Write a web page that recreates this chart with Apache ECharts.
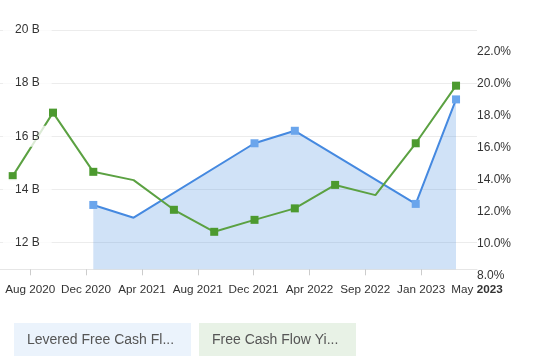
<!DOCTYPE html>
<html><head><meta charset="utf-8">
<script src="https://cdn.jsdelivr.net/npm/echarts@6/dist/echarts.min.js"></script>
<style>html,body{margin:0;padding:0;background:#fff}#c{width:538px;height:360px}</style>
</head><body><div id="c"></div>
<script>
// ---- data ----
const pointDates = ['Jun 2020','Sep 2020','Dec 2020','Mar 2021','Jun 2021','Sep 2021','Dec 2021','Mar 2022','Jun 2022','Sep 2022','Dec 2022','Mar 2023'];
const leveredFCF = [null, null, 13.42, 12.94, null, null, 15.74, 16.21, null, null, 13.46, 17.39]; // billions
const fcfYield   = [13.84, 17.82, 14.11, 13.59, 11.73, 10.35, 11.10, 11.82, 13.29, 12.65, 15.90, 19.51]; // %
const leveredMarker = [0,0,1,0,0,0,1,1,0,0,1,1];
const yieldMarker   = [1,1,1,0,1,1,1,1,1,0,1,1];
const xTickLabels = ['Aug 2020','Dec 2020','Apr 2021','Aug 2021','Dec 2021','Apr 2022','Sep 2022','Jan 2023','May 2023'];
const leftTicks = [12, 14, 16, 18, 20];
const rightTicks = [8, 10, 12, 14, 16, 18, 20, 22];
const seriesNames = ['Levered Free Cash Flow', 'Free Cash Flow Yield'];

// ---- layout / axis config ----
const FONT = '"Liberation Sans", Arial, sans-serif';
const TICK_START = 0.4346, TICK_STEP = 1.3857;
const X_MIN = -0.315;
const X_MAX = TICK_START + TICK_STEP * (xTickLabels.length - 1);
const xTickVals = xTickLabels.map((_, k) => TICK_START + k * TICK_STEP);
const BOLD_YEAR_IDX = xTickLabels.length - 1;

function toPoints(values, markers) {
  const out = [];
  values.forEach((v, i) => {
    if (v == null) return;
    out.push({ value: [i, v], symbol: markers[i] ? 'rect' : 'none' });
  });
  return out;
}

const chart = echarts.init(document.getElementById('c'));
chart.setOption({
  animation: false,
  backgroundColor: '#fff',
  textStyle: { fontFamily: FONT },
  grid: { left: 0, right: 61, top: 30, bottom: 90.7, containLabel: false },
  xAxis: {
    type: 'value', min: X_MIN, max: X_MAX,
    axisLine: { show: true, lineStyle: { color: '#e6e6e6', width: 1 } },
    axisTick: { show: true, length: 6, lineStyle: { color: '#cccccc' }, customValues: xTickVals.slice(0, -1) },
    splitLine: { show: false },
    axisLabel: {
      customValues: xTickVals, margin: 14, fontSize: 11.7, color: '#333', fontFamily: FONT,
      formatter: v => {
        const k = Math.round((v - TICK_START) / TICK_STEP);
        const s = xTickLabels[k] || '';
        if (k === BOLD_YEAR_IDX) { const p = s.split(' '); return p[0] + ' {b|' + p[1] + '}'; }
        return s;
      },
      rich: { b: { fontWeight: 'bold', fontSize: 11.7, color: '#333', fontFamily: FONT } }
    }
  },
  yAxis: [
    { type: 'value', position: 'left', min: 11, max: 20,
      axisLine: { show: false }, axisTick: { show: false }, axisLabel: { show: false },
      splitLine: { show: true, lineStyle: { color: '#ececec', width: 1 } } },
    { type: 'value', position: 'right', min: 8, max: 23,
      axisLine: { show: false }, axisTick: { show: false }, splitLine: { show: false },
      axisLabel: { customValues: rightTicks, margin: 0, fontSize: 12, color: '#333', fontFamily: FONT,
        verticalAlign: 'top', formatter: v => v.toFixed(1) + '%' } },
    { type: 'value', position: 'left', min: 11, max: 20, z: 10,
      axisLine: { show: false }, axisTick: { show: false }, splitLine: { show: false },
      axisLabel: { inside: true, customValues: leftTicks, margin: 3, fontSize: 12, color: '#333', fontFamily: FONT,
        backgroundColor: 'rgba(255,255,255,0.78)', padding: [4, 12, 4, 12], lineHeight: 13,
        formatter: v => v + ' B' } }
  ],
  series: [
    { name: seriesNames[0], type: 'line', yAxisIndex: 0, data: toPoints(leveredFCF, leveredMarker),
      symbolSize: 8, lineStyle: { color: '#4589e0', width: 2 },
      itemStyle: { color: '#6aa5ec' },
      areaStyle: { color: '#4a90e2', opacity: 0.26, origin: 'start' }, z: 2 },
    { name: seriesNames[1], type: 'line', yAxisIndex: 1, data: toPoints(fcfYield, yieldMarker),
      symbolSize: 8, lineStyle: { color: '#5ba142', width: 2 },
      itemStyle: { color: '#4c9a2f' }, z: 3 }
  ],
  graphic: [
    { type: 'rect', x: 14, y: 323, shape: { width: 177, height: 33 }, style: { fill: '#ebf3fc' } },
    { type: 'text', x: 27, y: 340, style: { text: seriesNames[0], width: 150, overflow: 'truncate', ellipsis: '...',
      font: '14px ' + FONT, fill: '#555', verticalAlign: 'middle' } },
    { type: 'rect', x: 199, y: 323, shape: { width: 157, height: 33 }, style: { fill: '#e8f2e6' } },
    { type: 'text', x: 212, y: 340, style: { text: seriesNames[1], width: 130, overflow: 'truncate', ellipsis: '...',
      font: '14px ' + FONT, fill: '#555', verticalAlign: 'middle' } }
  ]
});
</script>
</body></html>
